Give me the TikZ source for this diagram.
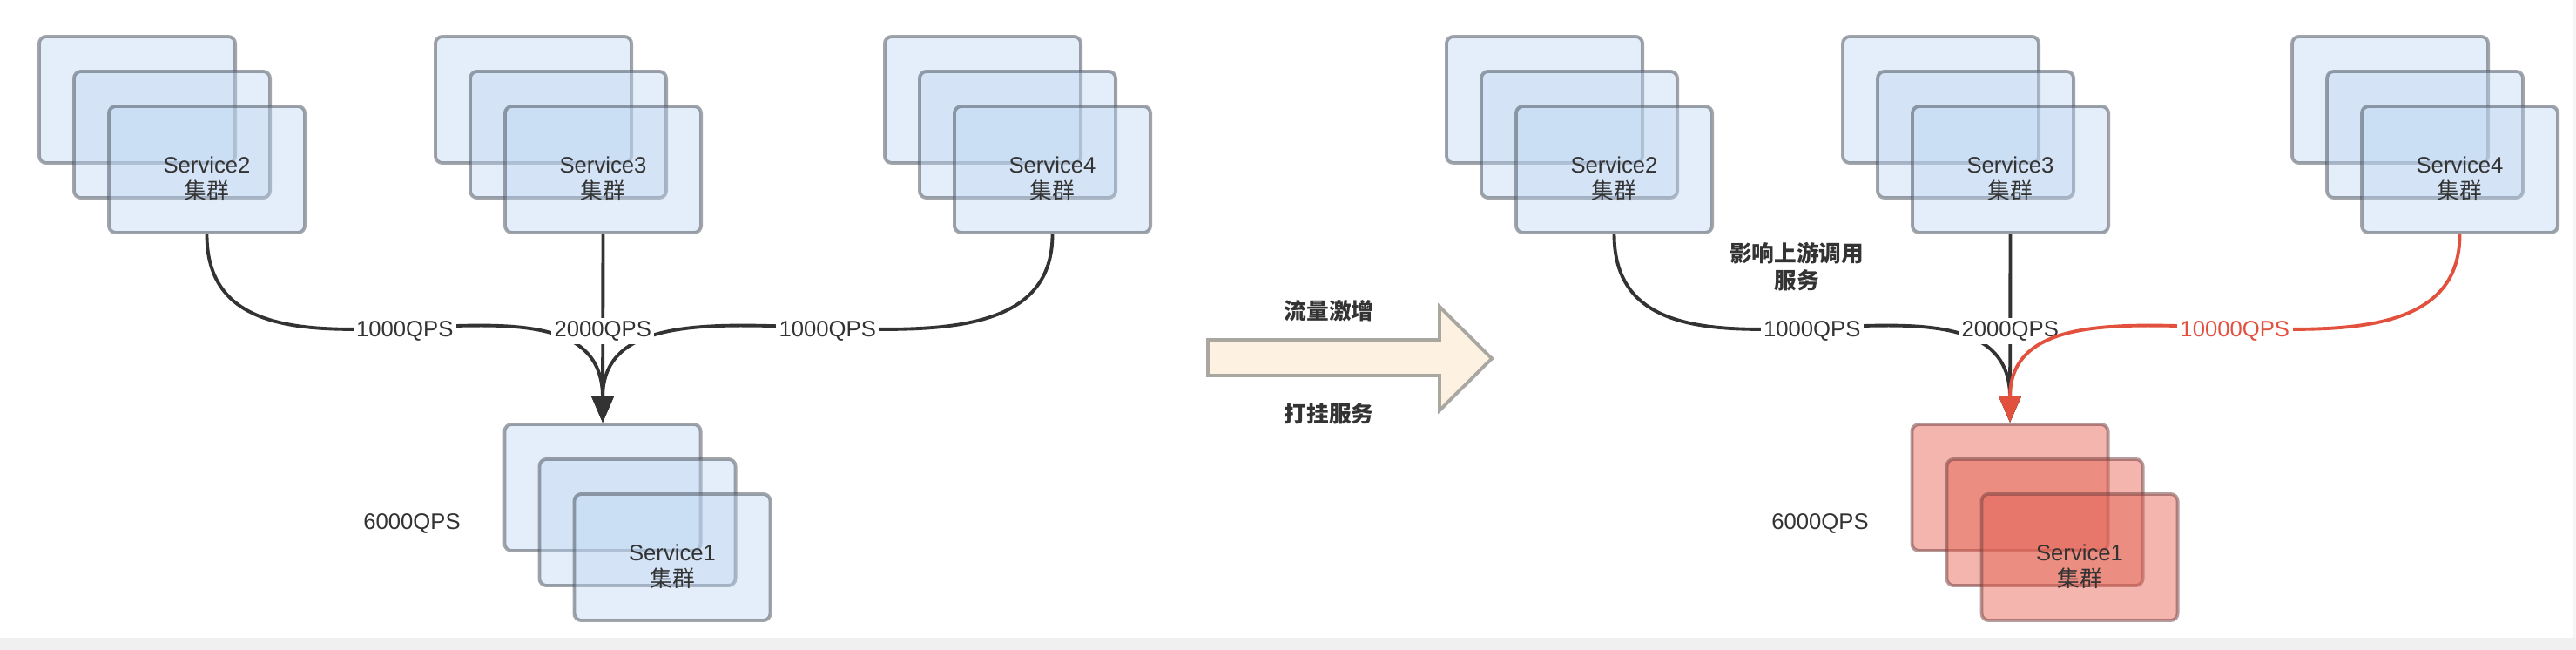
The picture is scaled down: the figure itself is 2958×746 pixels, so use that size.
\documentclass[tikz,border=0pt]{standalone}
\usepackage{fontspec}
\setmainfont{Liberation Sans}
\newfontfamily\cjk{Noto Sans CJK SC}
\usepackage{xcolor}
\usepackage{tikz}
\usetikzlibrary{arrows.meta}

\definecolor{boxblue}{RGB}{187,213,242}
\definecolor{boxred}{RGB}{229,95,80}
\definecolor{boxline}{RGB}{70,76,86}
\definecolor{redline}{RGB}{110,60,60}
\definecolor{ink}{RGB}{51,51,51}
\definecolor{hot}{RGB}{226,80,62}
\definecolor{arrowfill}{RGB}{253,242,226}
\definecolor{arrowline}{RGB}{170,166,160}
\definecolor{band}{RGB}{240,240,240}

\begin{document}
\begin{tikzpicture}[x=0.01cm,y=-0.01cm]
			\tikzstyle{every node}=[font=\fontsize{7.3}{8.5}\selectfont, text=ink];
			\tikzstyle{svc}=[rectangle, rounded corners=2.3pt, minimum width=2.25cm, minimum height=1.45cm, inner sep=0pt, line width=1.1pt, fill=boxblue, fill opacity=0.385, draw=boxline, draw opacity=0.5];
			\tikzstyle{hotsvc}=[svc, fill=boxred, fill opacity=0.46, draw=redline];
			\tikzstyle{svctext}=[align=center, inner sep=0pt];
			\tikzstyle{qps}=[fill=white, inner sep=1pt];
			\tikzstyle{qpsline}=[draw=ink, line width=1.1pt, -{Triangle[length=8.5pt,width=7pt]}];
			\tikzstyle{bold}=[font=\cjk\bfseries\fontsize{7.3}{9}\selectfont];
			
			\useasboundingbox (0,0) rectangle (2958,746);
			\fill[white] (0,0) rectangle (2958,746);
			\fill[band] (0,732) rectangle (2958,746);
			\fill[band!70!white] (2955,0) rectangle (2958,732);
			
			%Clusters
			\foreach \s/\x/\y/\lbl in {l2/157.5/114.5/Service2, l3/612.5/114.5/Service3, l4/1128.5/114.5/Service4, l1/692/559.5/Service1, r2/1773.5/114.5/Service2, r3/2228.5/114.5/Service3, r4/2744.5/114.5/Service4}{
				\node[svc] (\s a) at (\x,\y) {};
				\node[svc] (\s b) at (\x+40,\y+40) {};
				\node[svc] (\s c) at (\x+80,\y+80) {};
				\node[svctext] (\s t) at (\x+80,\y+91) {\lbl\\{\cjk 集群}};
			}
			
			%Overloaded cluster
			\node[hotsvc] (r1a) at (2308,559.5) {};
			\node[hotsvc] (r1b) at (2348,599.5) {};
			\node[hotsvc] (r1c) at (2388,639.5) {};
			\node[svctext] (r1t) at (2388,650.5) {Service1\\{\cjk 集群}};
			
			%Lines, left
			\draw[qpsline] (l2c.south) .. controls +(0,225) and +(0,-217) .. node[qps] {1000QPS} (l1a.north);
			\draw[qpsline] (l4c.south) .. controls +(0,225) and +(0,-217) .. node[qps] {1000QPS} (l1a.north);
			\draw[qpsline] (l3c.south) -- node[qps, pos=0.515] {2000QPS} (l1a.north);
			
			%Lines, right
			\draw[qpsline] (r2c.south) .. controls +(0,225) and +(0,-217) .. node[qps] {1000QPS} (r1a.north);
			\draw[qpsline] (r3c.south) -- node[qps, pos=0.515] {2000QPS} (r1a.north);
			\draw[qpsline, draw=hot] (r4c.south) .. controls +(0,225) and +(0,-217) .. node[qps, text=hot] {10000QPS} (r1a.north);
			
			%Totals
			\node (l6k) at (473,601) {6000QPS};
			\node (r6k) at (2090,601) {6000QPS};
			\node[bold, align=center] (hint) at (2063,306) {影响上游调用\\服务};
			
			%Arrow
			\filldraw[fill=arrowfill, draw=arrowline, line width=1.1pt] (1387,390) -- (1653,390) -- (1653,352) -- (1713,411.5) -- (1653,471) -- (1653,431) -- (1387,431) -- cycle;
			\node[bold] (surge) at (1526,357) {流量激增};
			\node[bold] (down) at (1526,475) {打挂服务};
\end{tikzpicture}
\end{document}
